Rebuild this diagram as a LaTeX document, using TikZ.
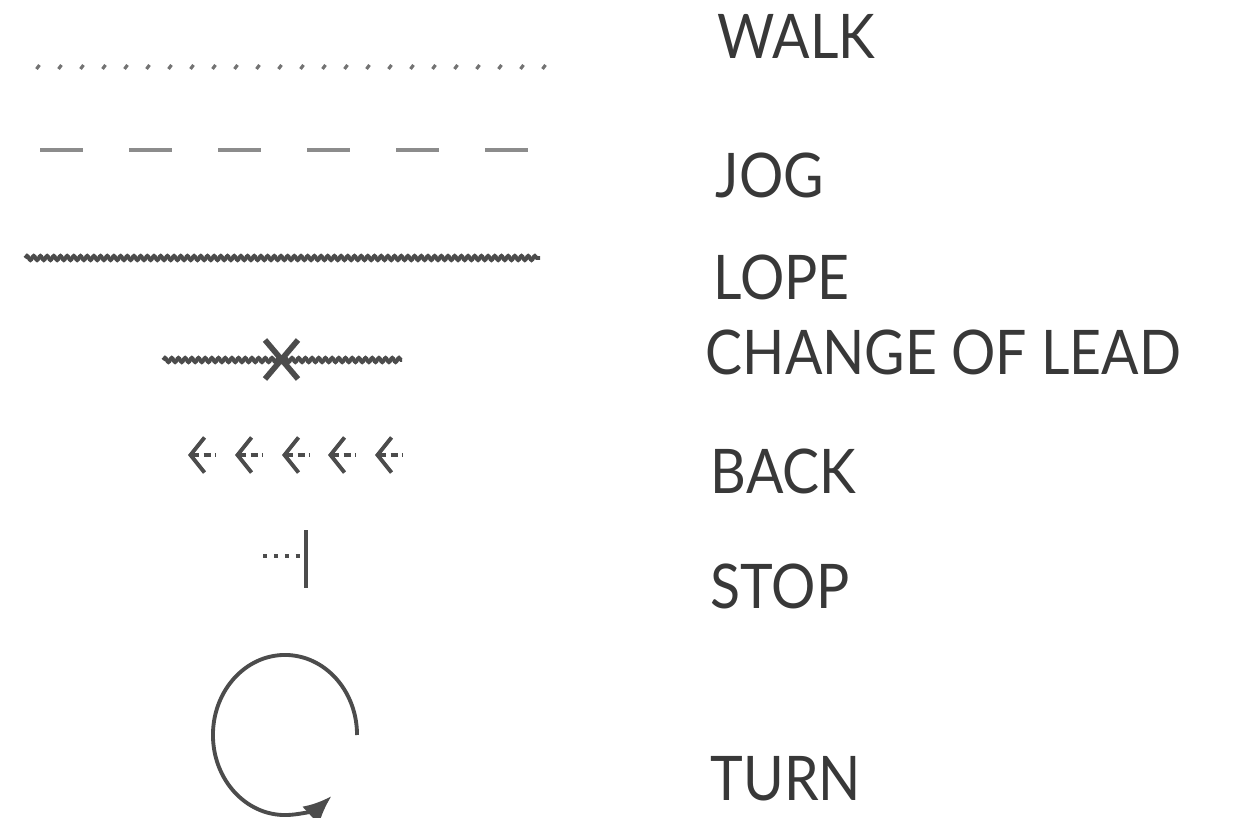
\documentclass[tikz,border=0pt]{standalone}
\usepackage{fontspec}
\setmainfont{Lato}[FakeStretch=0.9]
\usetikzlibrary{arrows.meta,decorations.pathmorphing}

\tikzset{
  gaitlabel/.style={anchor=base west, inner sep=0pt, font=\fontsize{17.5}{20}\selectfont, text=black!78},
  gaitline/.style={draw=black!70, line width=1.1pt},
  wavy/.style={decorate, decoration={snake, amplitude=0.6pt, segment length=1.9pt}},
}

\begin{document}
\begin{tikzpicture}[x=0.01cm, y=-0.01cm]
  \useasboundingbox (0,0) rectangle (1238,818);
  % labels
  \node[gaitlabel] (walk) at (717,58) {WALK};
  \node[gaitlabel] (jog) at (715,198) {JOG};
  \node[gaitlabel] (lope) at (713,299) {LOPE};
  \node[gaitlabel] (lead) at (705,374) {CHANGE OF LEAD};
  \node[gaitlabel] (back) at (710,493) {BACK};
  \node[gaitlabel] (stop) at (710,608) {STOP};
  \node[gaitlabel] (turn) at (710,800) {TURN};
  % walk
  \foreach \x in {38,60,...,560}
    \draw[gaitline, draw=black!55, line width=0.9pt] (\x-1.5,69) -- (\x+1.5,65);
  % jog
  \draw[gaitline, draw=black!45, line width=1pt, dash pattern=on 0.43cm off 0.46cm] (40,150) -- (535,150);
  % lope
  \draw[gaitline, wavy] (25,258) -- (540,258);
  % change of lead
  \coordinate (leadx) at (282,360);
  \draw[gaitline, wavy] (163,360) -- (leadx) -- (402,360);
  \draw[gaitline, line width=1.6pt] (265,340) -- (298,379) (298,340) -- (265,379);
  % back
  \foreach \x in {188,235,282,328,375}
    \draw[gaitline, {Straight Barb[length=4pt,width=10pt]}-, dash pattern=on 2pt off 1.2pt] (\x,455) -- (\x+28,455);
  % stop
  \draw[gaitline, dotted] (263,556) -- (305,556);
  \draw[gaitline] (306,530) -- (306,588);
  % turn
  \coordinate (turnc) at (285,735);
  \draw[gaitline, -{Latex[length=8pt,width=7pt]}] ([xshift=0.72cm]turnc)
    arc[start angle=0, end angle=310, x radius=0.72cm, y radius=0.8cm];
\end{tikzpicture}
\end{document}
